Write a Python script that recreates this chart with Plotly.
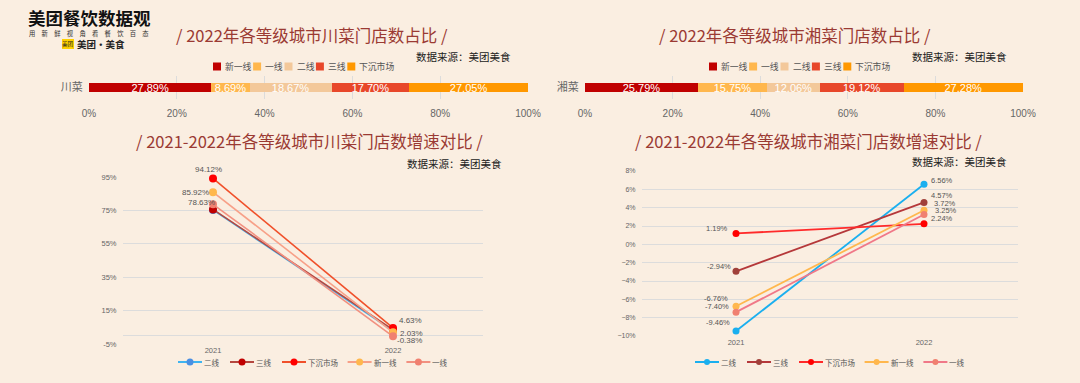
import plotly.graph_objects as go

W, H = 1080, 383
BG = "#FAEEE1"
TITLE_C = "#9B3A33"
GRID = "#DCDCDC"
TICK_C = "#666666"
FONT = "Noto Sans CJK SC, Noto Sans, sans-serif"

# ---------- data ----------
tiers = ["新一线", "一线", "二线", "三线", "下沉市场"]
chuan_share = [27.89, 8.69, 18.67, 17.70, 27.05]
xiang_share = [25.79, 15.75, 12.06, 19.12, 27.28]
bar_colors = ["#C00000", "#FFB74D", "#F3C89A", "#E8472A", "#FF9800"]

years = ["2021", "2022"]
line_series = ["二线", "三线", "下沉市场", "新一线", "一线"]
chuan_growth = {
    "二线": [75.3, 2.9],
    "三线": [75.6, 3.6],
    "下沉市场": [94.12, 4.63],
    "新一线": [85.92, 2.03],
    "一线": [78.63, -0.38],
}
xiang_growth = {
    "二线": [-9.46, 6.56],
    "三线": [-2.94, 4.57],
    "下沉市场": [1.19, 2.24],
    "新一线": [-6.76, 3.72],
    "一线": [-7.40, 3.25],
}
left_line_colors = {"二线": "#3FB4F0", "三线": "#B5473F", "下沉市场": "#F0502A",
                    "新一线": "#F7A088", "一线": "#F29080"}
left_marker_colors = {"二线": "#4A8FE2", "三线": "#C00000", "下沉市场": "#FF0000",
                      "新一线": "#FFB74D", "一线": "#F08070"}
right_line_colors = {"二线": "#1AAFEF", "三线": "#B5383A", "下沉市场": "#FF2A2A",
                     "新一线": "#FFB74D", "一线": "#F07888"}
right_marker_colors = {"二线": "#1AAFEF", "三线": "#A0403A", "下沉市场": "#FF0000",
                       "新一线": "#FFB74D", "一线": "#F08070"}

logo_title = "美团餐饮数据观"
logo_slogan = "用新鲜视角看餐饮百态"
logo_brand = "美团·美食"
source_text = "数据来源：美团美食"


def px(x):
    return x / W


def py(y):
    return 1 - y / H


fig = go.Figure()

# ---------- stacked bars ----------
for dish, shares, xa, ya in [("川菜", chuan_share, "x", "y"), ("湘菜", xiang_share, "x2", "y2")]:
    for i, t in enumerate(tiers):
        fig.add_trace(go.Bar(
            y=[dish], x=[shares[i]], name=t, orientation="h",
            marker=dict(color=bar_colors[i], line=dict(width=0)),
            text=[f"{shares[i]:.2f}%"], textposition="inside",
            insidetextanchor="middle", constraintext="none",
            textfont=dict(color="white", size=11, family="Liberation Sans, Arial"),
            xaxis=xa, yaxis=ya, width=0.42, showlegend=False,
            hoverinfo="skip"))

# ---------- lines ----------
for s in line_series:
    fig.add_trace(go.Scatter(
        x=years, y=chuan_growth[s], name=s, mode="lines+markers",
        line=dict(color=left_line_colors[s], width=1.6),
        marker=dict(color=left_marker_colors[s], size=8),
        xaxis="x3", yaxis="y3", showlegend=False, cliponaxis=False))
for s in line_series:
    fig.add_trace(go.Scatter(
        x=years, y=xiang_growth[s], name=s, mode="lines+markers",
        line=dict(color=right_line_colors[s], width=1.8),
        marker=dict(color=right_marker_colors[s], size=7),
        xaxis="x4", yaxis="y4", showlegend=False, cliponaxis=False))

annotations = []
shapes = []


def txt(x, y, text, size, color, anchor="center", family=FONT):
    annotations.append(dict(x=px(x), y=py(y), xref="paper", yref="paper",
                            text=text, showarrow=False, xanchor=anchor,
                            yanchor="middle", borderpad=0,
                            font=dict(size=size, color=color, family=family)))


NUMFONT = "Liberation Sans, Arial, sans-serif"

# left line labels (pixel shifts)
left_lab = [
    ("下沉市场", 0, -5, -9), ("新一线", 0, -18, 0), ("一线", 0, -12, -2),
    ("下沉市场", 1, 17, -7), ("新一线", 1, 18, 1), ("一线", 1, 16, 4),
]
for s, i, dx, dy in left_lab:
    v = chuan_growth[s][i]
    annotations.append(dict(
        x=i, y=v, xref="x3", yref="y3", text=f"{v:.2f}%",
        showarrow=False, xshift=dx, yshift=-dy, borderpad=0,
        font=dict(size=8, color="#555555", family=NUMFONT)))

right_lab = [
    ("下沉市场", 0, -19, -5), ("三线", 0, -17, -5), ("新一线", 0, -20, -8),
    ("一线", 0, -19, -6), ("二线", 0, -18, -9),
    ("二线", 1, 18, -4), ("三线", 1, 18, -7), ("新一线", 1, 21, -7),
    ("一线", 1, 22, -4), ("下沉市场", 1, 18, -5),
]
for s, i, dx, dy in right_lab:
    v = xiang_growth[s][i]
    annotations.append(dict(
        x=i, y=v, xref="x4", yref="y4", text=f"{v:.2f}%",
        showarrow=False, xshift=dx, yshift=-dy, borderpad=0,
        font=dict(size=7.5, color="#555555", family=NUMFONT)))

# titles
txt(312, 35, "/ 2022年各等级城市川菜门店数占比 /", 16.5, TITLE_C)
txt(795, 35, "/ 2022年各等级城市湘菜门店数占比 /", 16.5, TITLE_C)
txt(309, 141, "/ 2021-2022年各等级城市川菜门店数增速对比 /", 16.5, TITLE_C)
txt(808, 141, "/ 2021-2022年各等级城市湘菜门店数增速对比 /", 16.5, TITLE_C)

# sources
for x, y in [(512, 56), (1008, 56), (503, 164), (1008, 161)]:
    txt(x, y, source_text, 10.5, "#222222", anchor="right")

# logo
txt(27, 17, f"<b>{logo_title}</b>", 17.5, "#111111", anchor="left")
txt(28, 33.5, "\u3000".join(logo_slogan), 6.3, "#333333", anchor="left")
shapes.append(dict(type="rect", xref="paper", yref="paper",
                   x0=px(62), x1=px(74), y0=py(49), y1=py(39),
                   fillcolor="#FFD100", line=dict(width=0)))
txt(68, 44, "美团", 5.5, "#222222")
txt(76, 44, f"<b>{logo_brand}</b>", 9.5, "#222222", anchor="left")


# ---------- custom legends ----------
def bar_legend(x0, yc):
    x = x0
    for t, c in zip(tiers, bar_colors):
        shapes.append(dict(type="rect", xref="paper", yref="paper",
                           x0=px(x), x1=px(x + 8), y0=py(yc + 4), y1=py(yc - 4),
                           fillcolor=c, line=dict(width=0)))
        txt(x + 11, yc, t, 8.8, "#555555", anchor="left")
        x += 11 + len(t) * 8.7 + 3


def line_legend(x0, yc, lc, mc, r):
    x = x0
    for s in line_series:
        shapes.append(dict(type="line", xref="paper", yref="paper",
                           x0=px(x), x1=px(x + 24), y0=py(yc), y1=py(yc),
                           line=dict(color=lc[s], width=2)))
        shapes.append(dict(type="circle", xref="paper", yref="paper",
                           x0=px(x + 12 - r), x1=px(x + 12 + r),
                           y0=py(yc + r), y1=py(yc - r),
                           fillcolor=mc[s], line=dict(width=0)))
        txt(x + 25, yc, s, 7.5, "#555555", anchor="left")
        x += 25 + len(s) * 6.8 + 13.4


bar_legend(213, 66.5)
bar_legend(709, 66.5)
line_legend(178, 362, left_line_colors, left_marker_colors, 3.5)
line_legend(695, 362, right_line_colors, right_marker_colors, 3)

bar_x = dict(range=[0, 100], tickvals=[0, 20, 40, 60, 80, 100],
             ticktext=["0%", "20%", "40%", "60%", "80%", "100%"],
             showgrid=True, gridcolor=GRID, gridwidth=1, zeroline=False,
             tickfont=dict(size=10, color=TICK_C, family=NUMFONT), ticks="outside",
             ticklen=5, tickcolor="rgba(0,0,0,0)", showline=False, fixedrange=True)
bar_y = dict(tickfont=dict(size=11, color=TICK_C), showgrid=False,
             ticks="outside", ticklen=3, tickcolor="rgba(0,0,0,0)",
             domain=[py(99), py(76)], fixedrange=True)

line_x = dict(type="category", showgrid=False, zeroline=False, showline=False,
              tickfont=dict(size=7.5, color=TICK_C, family=NUMFONT), ticks="",
              range=[-0.5, 1.5])

fig.update_layout(
    width=W, height=H, margin=dict(l=0, r=0, t=0, b=0, autoexpand=False),
    paper_bgcolor=BG, plot_bgcolor=BG, barmode="stack", showlegend=False,
    font=dict(family=FONT, color="#555555"),
    xaxis=dict(**bar_x, domain=[px(89), px(528)], anchor="y"),
    yaxis=dict(**bar_y, anchor="x"),
    xaxis2=dict(**bar_x, domain=[px(585), px(1023)], anchor="y2"),
    yaxis2=dict(**bar_y, anchor="x2"),
    xaxis3=dict(**line_x, domain=[px(123), px(483)], anchor="y3"),
    yaxis3=dict(range=[-5, 95], tickvals=[-5, 15, 35, 55, 75, 95],
                ticktext=["-5%", "15%", "35%", "55%", "75%", "95%"],
                showgrid=True, gridcolor=GRID, zeroline=True, zerolinecolor=GRID,
                zerolinewidth=1, tickfont=dict(size=7.5, color=TICK_C, family=NUMFONT),
                ticks="outside", ticklen=4, tickcolor="rgba(0,0,0,0)",
                domain=[py(344), py(177)], anchor="x3"),
    xaxis4=dict(**line_x, domain=[px(642), px(1018)], anchor="y4"),
    yaxis4=dict(range=[-10, 8], dtick=2, ticksuffix="%",
                showgrid=True, gridcolor=GRID, zeroline=False,
                tickfont=dict(size=7, color=TICK_C, family=NUMFONT),
                ticks="outside", ticklen=4, tickcolor="rgba(0,0,0,0)",
                domain=[py(336), py(171)], anchor="x4"),
    annotations=annotations, shapes=shapes,
)

fig.write_html("out.html")
